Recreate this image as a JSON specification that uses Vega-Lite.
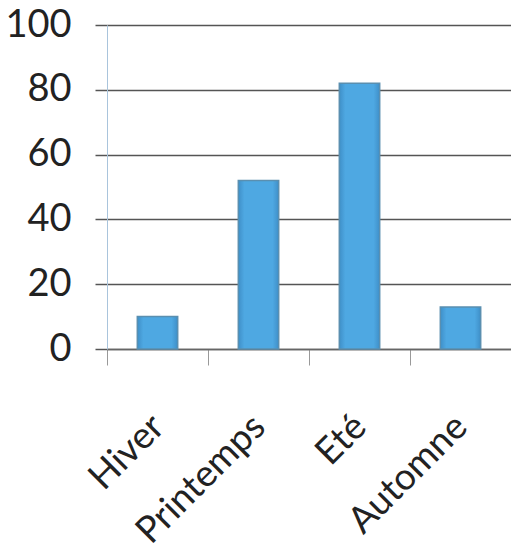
{
  "$schema": "https://vega.github.io/schema/vega-lite/v6.json",
  "width": 404,
  "height": 324,
  "autosize": {"type": "none"},
  "padding": {"left": 107, "top": 25, "right": 0, "bottom": 202},
  "background": "white",
  "data": {
    "values": [
      {"saison": "Hiver", "valeur": 10},
      {"saison": "Printemps", "valeur": 52},
      {"saison": "Eté", "valeur": 82},
      {"saison": "Automne", "valeur": 13}
    ]
  },
  "mark": {
    "type": "bar",
    "color": {
      "gradient": "linear",
      "x1": 0, "x2": 1, "y1": 0, "y2": 0,
      "stops": [
        {"offset": 0, "color": "#3f8fc8"},
        {"offset": 0.15, "color": "#4ea8e2"},
        {"offset": 0.85, "color": "#4ea8e2"},
        {"offset": 1, "color": "#3f8fc8"}
      ]
    },
    "stroke": "#5a8fb0",
    "strokeWidth": 1.5
  },
  "encoding": {
    "x": {
      "field": "saison",
      "type": "nominal",
      "sort": null,
      "title": null,
      "scale": {"paddingInner": 0.6, "paddingOuter": 0.3},
      "axis": {
        "labelAngle": -45,
        "labelAlign": "right",
        "labelBaseline": "middle",
        "labelFont": "Lato",
        "labelFontSize": 37,
        "labelColor": "#222",
        "labelPadding": 56,
        "tickOffset": -50.5,
        "labelOffset": 51,
        "tickSize": 16,
        "tickColor": "#999",
        "domainColor": "#666",
        "domainWidth": 1.5,
        "grid": false
      }
    },
    "y": {
      "field": "valeur",
      "type": "quantitative",
      "title": null,
      "scale": {"domain": [0, 100], "nice": false},
      "axis": {
        "values": [0, 20, 40, 60, 80, 100],
        "labelFont": "Lato",
        "labelFontSize": 38,
        "labelColor": "#222",
        "labelPadding": 24,
        "tickSize": 12,
        "tickColor": "#555",
        "tickWidth": 1.5,
        "gridColor": "#555",
        "gridWidth": 1.5,
        "gridOpacity": 1,
        "domainColor": "#a9c4dc",
        "domainWidth": 1
      }
    }
  },
  "config": {
    "view": {"stroke": null}
  }
}
